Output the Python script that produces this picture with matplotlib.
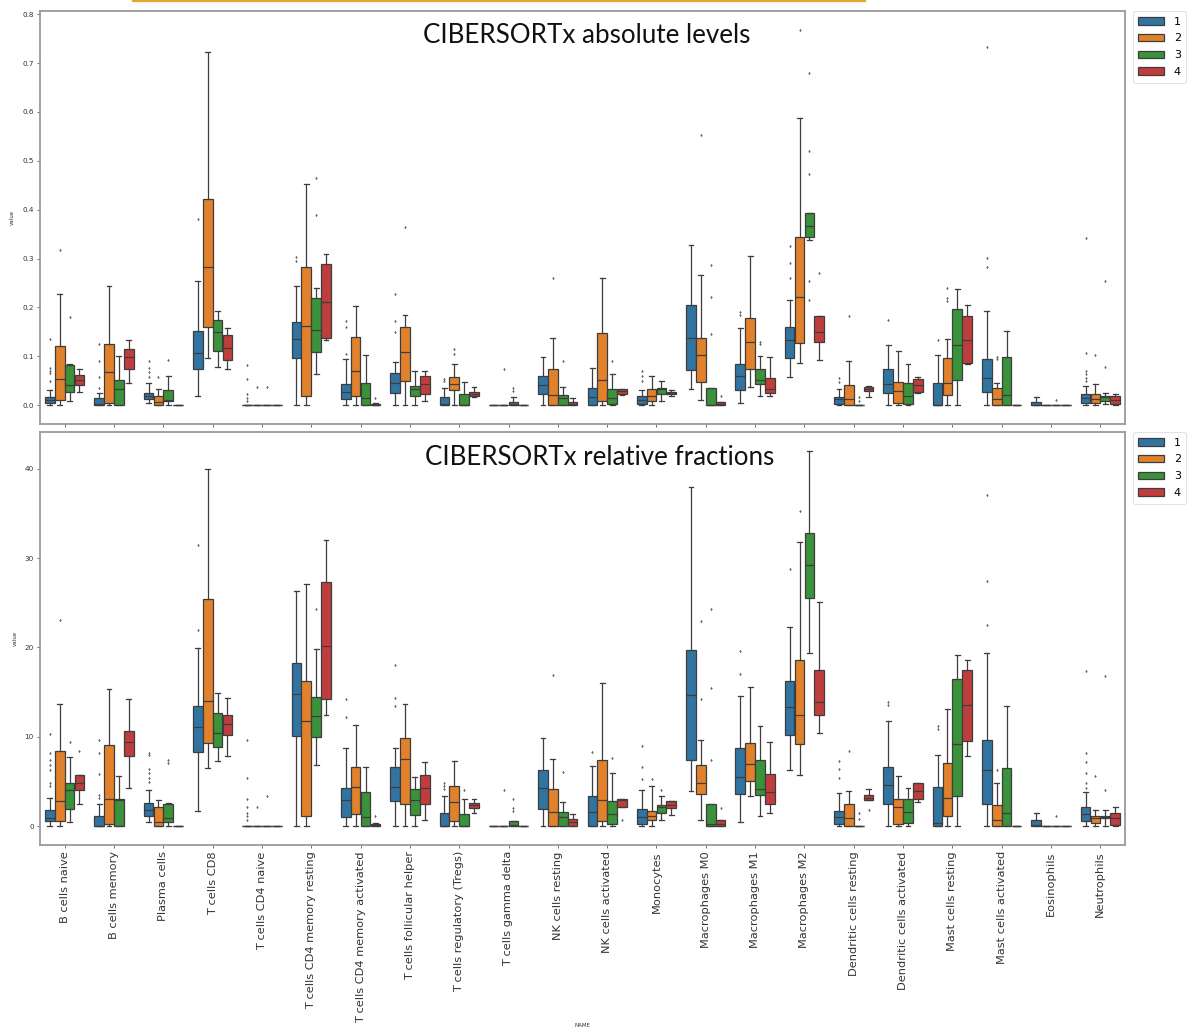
import matplotlib
matplotlib.use("Agg")
import matplotlib.pyplot as plt
from matplotlib.patches import Patch
from matplotlib.lines import Line2D
import numpy as np

cell_types = [
    "B cells naive", "B cells memory", "Plasma cells", "T cells CD8",
    "T cells CD4 naive", "T cells CD4 memory resting",
    "T cells CD4 memory activated", "T cells follicular helper",
    "T cells regulatory (Tregs)", "T cells gamma delta", "NK cells resting",
    "NK cells activated", "Monocytes", "Macrophages M0", "Macrophages M1",
    "Macrophages M2", "Dendritic cells resting", "Dendritic cells activated",
    "Mast cells resting", "Mast cells activated", "Eosinophils", "Neutrophils",
]
groups = ["1", "2", "3", "4"]
colors = ["#3274a1", "#e1812c", "#3a923a", "#c03d3e"]

# ---- CIBERSORTx absolute levels: box statistics, one list per group ----
abs_q1 = [
    [0.005, 0, 0.012, 0.074, 0, 0.096, 0.012, 0.026, 0, 0, 0.023, 0, 0.002, 0.072, 0.031, 0.096, 0.002, 0.024, 0, 0.028, 0, 0.004],
    [0.010, 0.004, 0, 0.161, 0, 0.019, 0.019, 0.050, 0.031, 0, 0, 0.009, 0.009, 0.048, 0.075, 0.127, 0, 0.004, 0.020, 0, 0, 0.004],
    [0.027, 0, 0.009, 0.110, 0, 0.108, 0, 0.019, 0, 0, 0, 0.002, 0.023, 0, 0.043, 0.344, 0, 0.002, 0.051, 0, 0, 0.009],
    [0.041, 0.075, 0, 0.093, 0, 0.137, 0, 0.023, 0.018, 0, 0, 0.023, 0.023, 0, 0.024, 0.130, 0.029, 0.027, 0.087, 0, 0, 0.002],
]
abs_med = [
    [0.011, 0.002, 0.019, 0.107, 0, 0.135, 0.027, 0.045, 0.002, 0, 0.041, 0.016, 0.011, 0.137, 0.059, 0.133, 0.012, 0.043, 0.001, 0.055, 0.001, 0.014],
    [0.053, 0.068, 0.007, 0.283, 0, 0.163, 0.070, 0.109, 0.044, 0, 0.020, 0.051, 0.019, 0.103, 0.130, 0.222, 0.012, 0.029, 0.046, 0.012, 0, 0.012],
    [0.041, 0.033, 0.010, 0.149, 0, 0.154, 0.014, 0.033, 0.001, 0.002, 0.014, 0.014, 0.033, 0.001, 0.052, 0.367, 0, 0.018, 0.124, 0.020, 0, 0.016],
    [0.052, 0.098, 0, 0.118, 0, 0.212, 0.001, 0.043, 0.023, 0, 0.003, 0.029, 0.025, 0.002, 0.034, 0.149, 0.034, 0.042, 0.133, 0, 0, 0.011],
]
abs_q3 = [
    [0.017, 0.014, 0.025, 0.151, 0, 0.171, 0.044, 0.066, 0.016, 0, 0.060, 0.036, 0.018, 0.206, 0.085, 0.159, 0.017, 0.075, 0.045, 0.094, 0.007, 0.023],
    [0.122, 0.126, 0.018, 0.421, 0, 0.282, 0.139, 0.159, 0.057, 0, 0.074, 0.147, 0.033, 0.137, 0.178, 0.344, 0.042, 0.048, 0.096, 0.036, 0, 0.023],
    [0.083, 0.051, 0.031, 0.174, 0, 0.219, 0.045, 0.040, 0.023, 0.007, 0.020, 0.034, 0.036, 0.036, 0.074, 0.394, 0, 0.045, 0.197, 0.099, 0, 0.019],
    [0.061, 0.116, 0, 0.144, 0, 0.289, 0.003, 0.060, 0.027, 0, 0.007, 0.033, 0.028, 0.007, 0.055, 0.183, 0.038, 0.053, 0.183, 0, 0, 0.018],
]
abs_lo = [
    [0, 0, 0.005, 0.019, 0, 0, 0, 0, 0, 0, 0, 0, 0, 0.033, 0.004, 0.057, 0, 0, 0, 0, 0, 0],
    [0, 0, 0, 0.096, 0, 0, 0, 0, 0, 0, 0, 0, 0, 0.011, 0.038, 0.087, 0, 0, 0, 0, 0, 0],
    [0.009, 0, 0, 0.079, 0, 0.063, 0, 0, 0, 0, 0, 0, 0.009, 0, 0.019, 0.337, 0, 0, 0, 0, 0, 0.002],
    [0.028, 0.046, 0, 0.074, 0, 0.134, 0, 0.009, 0.016, 0, 0, 0.021, 0.019, 0, 0.018, 0.093, 0.016, 0.024, 0.085, 0, 0, 0],
]
abs_hi = [
    [0.031, 0.026, 0.045, 0.255, 0, 0.243, 0.094, 0.089, 0.036, 0, 0.099, 0.077, 0.031, 0.328, 0.157, 0.215, 0.034, 0.124, 0.103, 0.193, 0.017, 0.040],
    [0.227, 0.244, 0.034, 0.722, 0, 0.452, 0.202, 0.184, 0.085, 0, 0.137, 0.260, 0.060, 0.267, 0.305, 0.588, 0.091, 0.111, 0.135, 0.045, 0, 0.043],
    [0.084, 0.101, 0.060, 0.192, 0, 0.239, 0.102, 0.069, 0.048, 0.016, 0.038, 0.064, 0.050, 0.036, 0.100, 0.394, 0, 0.084, 0.238, 0.152, 0, 0.025],
    [0.074, 0.134, 0, 0.157, 0, 0.309, 0.004, 0.069, 0.038, 0, 0.014, 0.034, 0.031, 0.007, 0.099, 0.183, 0.040, 0.058, 0.205, 0, 0, 0.023],
]
# outliers keyed by (cell type index, group index)
abs_fliers = {
    (0, 0): [0.135, 0.077, 0.071, 0.065, 0.05], (0, 1): [0.318], (0, 2): [0.18],
    (1, 0): [0.036, 0.058, 0.091, 0.126],
    (2, 0): [0.057, 0.067, 0.077, 0.091], (2, 1): [0.057], (2, 2): [0.093],
    (3, 0): [0.381],
    (4, 0): [0.082, 0.053, 0.023, 0.014, 0.009], (4, 1): [0.038], (4, 2): [0.038],
    (5, 0): [0.303, 0.296], (5, 2): [0.464, 0.39],
    (6, 0): [0.173, 0.159, 0.105], (6, 3): [0.014],
    (7, 0): [0.227, 0.173, 0.149], (7, 1): [0.365],
    (8, 0): [0.053, 0.05], (8, 1): [0.115, 0.105],
    (9, 1): [0.074], (9, 2): [0.036, 0.029],
    (10, 1): [0.26], (10, 2): [0.091],
    (11, 2): [0.091],
    (12, 0): [0.07, 0.06, 0.05],
    (13, 1): [0.552], (13, 2): [0.286, 0.222, 0.145], (13, 3): [0.019],
    (14, 0): [0.19, 0.185], (14, 2): [0.13, 0.125],
    (15, 0): [0.326, 0.291, 0.26], (15, 1): [0.768],
    (15, 2): [0.68, 0.521, 0.473, 0.255, 0.215], (15, 3): [0.27],
    (16, 0): [0.055, 0.048], (16, 1): [0.182], (16, 2): [0.017, 0.009],
    (17, 0): [0.175],
    (18, 0): [0.133], (18, 1): [0.24, 0.219, 0.214],
    (19, 0): [0.733, 0.301, 0.283], (19, 1): [0.099, 0.094],
    (20, 2): [0.01],
    (21, 0): [0.342, 0.106, 0.07, 0.063, 0.055, 0.05], (21, 1): [0.102], (21, 2): [0.255, 0.079],
}

# ---- CIBERSORTx relative fractions (%) ----
rel_q1 = [
    [0.56, 0, 1.2, 8.3, 0, 10.1, 1.04, 2.8, 0, 0, 1.9, 0.07, 0.2, 7.4, 3.6, 10.2, 0.26, 2.5, 0.07, 2.5, 0, 0.63],
    [0.56, 0.3, 0.07, 9.3, 0, 1.1, 1.4, 2.5, 0.56, 0, 0.07, 0.56, 0.74, 3.65, 5.1, 9.2, 0.07, 0.26, 1.2, 0.07, 0, 0.37],
    [1.9, 0.07, 0.45, 8.9, 0, 10.0, 0.07, 1.3, 0, 0, 0.07, 0.26, 1.5, 0.07, 3.5, 25.5, 0, 0.37, 3.35, 0.07, 0, 0.93],
    [4.1, 7.9, 0, 10.2, 0, 14.2, 0, 2.5, 2.05, 0, 0.07, 2.2, 2.05, 0.07, 2.5, 12.4, 2.9, 3.0, 9.5, 0, 0, 0.19],
]
rel_med = [
    [0.93, 0.05, 1.86, 11.1, 0, 14.8, 2.9, 4.4, 0.05, 0, 4.3, 1.6, 1.0, 14.7, 5.5, 13.3, 1.05, 4.6, 0.37, 6.3, 0.1, 1.4],
    [2.8, 3.05, 0.48, 14.0, 0, 11.8, 4.4, 7.5, 2.7, 0, 1.6, 2.9, 1.2, 4.8, 7.0, 12.4, 0.93, 2.1, 3.2, 0.74, 0, 0.93],
    [4.1, 2.9, 0.93, 10.4, 0, 12.3, 1.0, 2.9, 0.05, 0.1, 1.05, 1.4, 2.2, 0.2, 4.2, 29.2, 0, 1.6, 9.2, 1.5, 0, 1.05],
    [4.8, 9.4, 0, 11.4, 0, 20.2, 0.1, 4.3, 2.35, 0, 0.48, 2.9, 2.35, 0.26, 3.8, 13.9, 3.2, 3.9, 13.6, 0, 0, 0.93],
]
rel_q3 = [
    [1.8, 1.2, 2.6, 13.4, 0, 18.3, 4.3, 6.6, 1.5, 0, 6.3, 3.35, 1.9, 19.7, 8.8, 16.3, 1.75, 6.6, 4.4, 9.7, 0.74, 2.1],
    [8.4, 9.1, 2.2, 25.4, 0, 16.3, 6.6, 9.9, 4.5, 0, 4.2, 7.4, 1.75, 6.9, 9.3, 18.6, 2.5, 3.1, 7.1, 2.4, 0, 1.2],
    [4.8, 3.0, 2.5, 12.7, 0, 14.5, 3.8, 4.2, 1.4, 0.56, 1.6, 2.8, 2.4, 2.5, 7.4, 32.8, 0, 3.1, 16.5, 6.5, 0, 1.2],
    [5.7, 10.7, 0, 12.4, 0, 27.3, 0.3, 5.7, 2.6, 0, 0.86, 3.0, 2.8, 0.74, 5.85, 17.5, 3.5, 4.8, 17.5, 0, 0, 1.5],
]
rel_lo = [
    [0, 0, 0.45, 1.7, 0, 0, 0, 0, 0, 0, 0, 0, 0, 3.9, 0.48, 6.3, 0, 0, 0, 0, 0, 0],
    [0, 0, 0, 6.5, 0, 0, 0, 0, 0, 0, 0, 0, 0, 0.67, 3.35, 5.7, 0, 0, 0, 0, 0, 0],
    [0.5, 0, 0, 7.3, 0, 6.9, 0, 0, 0, 0, 0, 0, 0.74, 0, 1.2, 19.4, 0, 0, 0, 0, 0, 0.07],
    [2.5, 4.3, 0, 7.9, 0, 12.4, 0, 0.7, 1.5, 0, 0, 2.1, 1.3, 0, 1.5, 10.4, 2.9, 2.7, 7.9, 0, 0, 0],
]
rel_hi = [
    [3.2, 2.5, 4.0, 19.9, 0, 26.3, 8.7, 8.8, 3.35, 0, 9.9, 6.7, 4.0, 38.0, 14.6, 22.3, 3.7, 11.8, 8.0, 19.4, 1.5, 3.8],
    [13.7, 15.3, 2.9, 40.0, 0, 27.1, 11.3, 13.7, 7.3, 0, 7.5, 16.0, 4.5, 9.6, 15.6, 31.8, 3.9, 5.6, 13.1, 4.8, 0, 1.8],
    [7.7, 5.6, 2.6, 14.9, 0, 19.8, 6.6, 5.5, 3.0, 0.6, 2.7, 6.0, 3.35, 2.5, 11.2, 42.0, 0, 4.3, 19.1, 13.5, 0, 1.8],
    [5.7, 14.2, 0, 14.4, 0, 32.0, 0.4, 7.2, 3.1, 0, 1.4, 3.0, 2.8, 0.74, 9.4, 25.1, 4.2, 4.8, 18.6, 0, 0, 2.1],
]
rel_fliers = {
    (0, 0): [10.35, 8.2, 7.4, 6.9, 6.3, 4.8, 4.5], (0, 1): [23.1], (0, 2): [9.4], (0, 3): [8.4],
    (1, 0): [9.7, 8.2, 5.85, 3.5, 3.2],
    (2, 0): [8.2, 8.0, 6.4, 5.9, 5.4, 5.0], (2, 2): [7.4, 7.1],
    (3, 0): [31.5, 22.0],
    (4, 0): [9.6, 5.4, 3.0, 2.2, 1.5, 1.1, 0.7], (4, 1): [2.1], (4, 2): [3.35],
    (5, 2): [24.3],
    (6, 0): [14.2, 12.2], (6, 3): [1.2],
    (7, 0): [18.0, 14.4, 13.4],
    (8, 0): [4.8, 4.5, 4.2], (8, 2): [4.0],
    (9, 1): [4.0], (9, 2): [3.05, 2.05, 1.7],
    (10, 1): [16.9], (10, 2): [6.1],
    (11, 0): [8.3], (11, 2): [7.6], (11, 3): [0.74],
    (12, 0): [9.0, 6.6, 5.3], (12, 1): [5.3], (12, 2): [4.1],
    (13, 1): [23.0, 14.2], (13, 2): [24.3, 15.5, 7.4], (13, 3): [2.05],
    (14, 0): [19.6, 17.0],
    (15, 0): [28.8], (15, 1): [35.3],
    (16, 0): [7.3, 6.4, 5.4], (16, 1): [8.4], (16, 2): [1.5, 0.82], (16, 3): [1.8],
    (17, 0): [13.9, 13.6],
    (18, 0): [11.2, 10.9],
    (19, 0): [37.1, 27.4, 22.5], (19, 1): [6.3],
    (20, 2): [1.1],
    (21, 0): [17.4, 8.2, 7.2, 6.0, 4.8, 4.3], (21, 1): [5.6], (21, 2): [16.8, 4.1],
}

abs_yticks = [0.0, 0.1, 0.2, 0.3, 0.4, 0.5, 0.6, 0.7, 0.8]
rel_yticks = [0, 10, 20, 30, 40]

W, H, DPI = 1192, 1034, 100
GRAY = "#3d3d3d"
LW = 0.9
SPINE = "#9a9a9a"


def px_rect(x0, y0, x1, y1):
    return [x0 / W, 1 - y1 / H, (x1 - x0) / W, (y1 - y0) / H]


def draw_boxes(ax, q1, med, q3, lo, hi, fliers):
    n = len(cell_types)
    ng = len(groups)
    width = 0.8 / ng
    for g in range(ng):
        stats = []
        for i in range(n):
            stats.append(dict(q1=q1[g][i], med=med[g][i], q3=q3[g][i],
                              whislo=lo[g][i], whishi=hi[g][i],
                              fliers=fliers.get((i, g), [])))
        pos = np.arange(n) - 0.4 + width * (g + 0.5)
        ax.bxp(stats, positions=pos, widths=width * 0.98, patch_artist=True,
               manage_ticks=False,
               boxprops=dict(facecolor=colors[g], edgecolor=GRAY, linewidth=LW),
               medianprops=dict(color=GRAY, linewidth=LW),
               whiskerprops=dict(color=GRAY, linewidth=LW),
               capprops=dict(color=GRAY, linewidth=LW),
               flierprops=dict(marker="d", markersize=1.4, markerfacecolor="#6a6a6a",
                               markeredgecolor="#6a6a6a", markeredgewidth=0.3,
                               linestyle="none"))
    ax.set_xlim(-0.5, n - 0.5)
    ax.set_xticks(np.arange(n))
    for s in ax.spines.values():
        s.set_color(SPINE)
        s.set_linewidth(1.3)
    ax.tick_params(axis="both", length=2.5, width=0.6, color="#555555",
                   labelcolor="#333333")
    ax.tick_params(axis="y", labelsize=5.2, pad=2)
    ax.set_ylabel("value", fontsize=4, labelpad=5, color="#333333")
    handles = [Patch(facecolor=c, edgecolor=GRAY, linewidth=LW, label=l)
               for c, l in zip(colors, groups)]
    leg = ax.legend(handles=handles, loc="upper left", bbox_to_anchor=(1.007, 1.0),
                    borderaxespad=0, fontsize=8, handlelength=2.3, handleheight=0.7,
                    labelspacing=0.62, handletextpad=0.9, borderpad=0.5,
                    frameon=True)
    leg.get_frame().set_edgecolor("#dddddd")
    leg.get_frame().set_linewidth(0.8)


fig = plt.figure(figsize=(W / DPI, H / DPI), dpi=DPI)
ax_abs = fig.add_axes(px_rect(40, 11, 1125, 424))
ax_rel = fig.add_axes(px_rect(40, 432, 1125, 845))

draw_boxes(ax_abs, abs_q1, abs_med, abs_q3, abs_lo, abs_hi, abs_fliers)
draw_boxes(ax_rel, rel_q1, rel_med, rel_q3, rel_lo, rel_hi, rel_fliers)

ax_abs.set_yticks(abs_yticks)
ax_abs.set_yticklabels([f"{v:.1f}" for v in abs_yticks])
ax_abs.tick_params(axis="x", labelbottom=False)
ax_rel.set_yticks(rel_yticks)
ax_rel.set_xticklabels(cell_types, rotation=90, fontsize=8.2)
ax_rel.tick_params(axis="x", pad=2)
ax_rel.set_xlabel("NAME", fontsize=4, labelpad=0.5, color="#333333")

# panel titles, sized to a target width in pixels
fig.canvas.draw()
renderer = fig.canvas.get_renderer()
for text, x0, base, target_w in [("CIBERSORTx absolute levels", 423, 43, 327),
                                  ("CIBERSORTx relative fractions", 425, 465, 350)]:
    t = fig.text(x0 / W, 1 - base / H, text, fontsize=20, family=["Lato", "DejaVu Sans"],
                 ha="left", va="baseline", color="#111111")
    w = t.get_window_extent(renderer).width
    t.set_fontsize(20 * target_w / w)

# thin highlight strip along the top edge
fig.add_artist(Line2D([133 / W, 865 / W], [1 - 1 / H, 1 - 1 / H], color="#e0a82e",
                      linewidth=1.6))

fig.savefig("out.png", dpi=DPI)
